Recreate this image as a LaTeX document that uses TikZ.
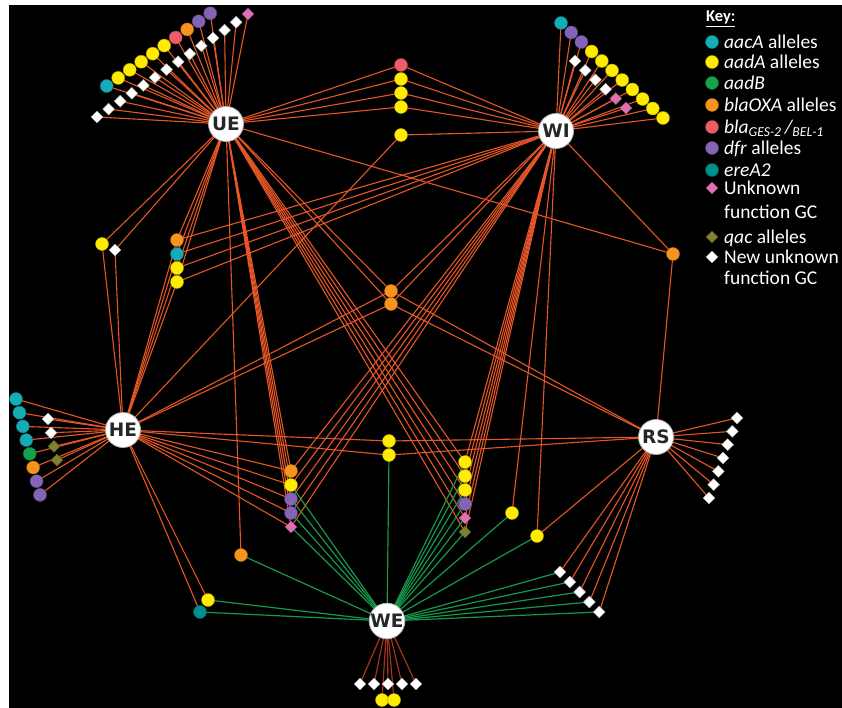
\documentclass[tikz,border=0pt]{standalone}
\usepackage{fontspec}
\setmainfont{Carlito}
\newfontfamily\hubfont{DejaVu Sans}
\usetikzlibrary{shapes.geometric}

\definecolor{edgeorange}{RGB}{230,86,38}
\definecolor{edgegreen}{RGB}{22,152,75}
\definecolor{edgebrown}{RGB}{165,50,25}
\definecolor{caacA}{RGB}{22,172,182}
\definecolor{caadA}{RGB}{255,236,0}
\definecolor{caadB}{RGB}{20,162,75}
\definecolor{cblaOXA}{RGB}{247,148,30}
\definecolor{cblaGES}{RGB}{238,92,105}
\definecolor{cdfr}{RGB}{132,100,182}
\definecolor{cereA}{RGB}{0,143,140}
\definecolor{cunk}{RGB}{224,112,182}
\definecolor{cqac}{RGB}{128,128,48}

\pgfdeclarelayer{back}
\pgfdeclarelayer{links}
\pgfsetlayers{back,links,main}

\tikzset{
  hubnode/.style={circle, fill=white, draw=black!30, line width=0.8pt, minimum size=35pt, inner sep=0pt, text=black!85, font=\hubfont\bfseries\fontsize{18.5}{18.5}\selectfont},
  gcnode/.style={circle, fill=#1, draw=#1!70!black, line width=0.4pt, minimum size=13pt, inner sep=0pt},
  gcdia/.style={diamond, fill=#1, draw=#1!70!black, line width=0.4pt, minimum size=12pt, inner sep=0pt},
  redline/.style={draw=edgeorange, line width=1.1pt},
  greenline/.style={draw=edgegreen, line width=1.2pt},
  brownline/.style={draw=edgebrown, line width=1.2pt},
  keytext/.style={anchor=base west, inner sep=0pt, text=white, font=\fontsize{19.5}{20}\selectfont},
}

\begin{document}
\begin{tikzpicture}[x=1pt, y=-1pt]
			%%%%% START %%%%%
			\useasboundingbox (0,0) rectangle (842,708);
			\begin{pgfonlayer}{back}
			\fill[white] (0,0) rectangle (842,708);
			\fill[black] (9,5) rectangle (842,708);
			\end{pgfonlayer}
			
			% hubs
			\node[hubnode] (UE) at (226,124) {UE};
			\node[hubnode] (WI) at (556,131) {WI};
			\node[hubnode] (HE) at (123,430) {HE};
			\node[hubnode] (RS) at (656,437) {RS};
			\node[hubnode] (WE) at (387,621) {WE};
			
			% UE own cassettes
			\foreach \c [count=\i] in {caacA,caadA,caadA,caadA,caadA,caadA,cblaGES,cblaOXA,cdfr,cdfr}
				\node[gcnode=\c] (uec\i) at ({106.7+11.5*(\i-1)},{86-8.08*(\i-1)}) {};
			\foreach \i in {1,...,13}
				\node[gcdia=white] (ued\i) at ({97+11.6*(\i-1)},{117-7.9*(\i-1)}) {};
			\node[gcdia=cunk] (ued14) at (248,14) {};
			
			% WI own cassettes
			\foreach \c [count=\i] in {caacA,cdfr,cdfr,caadA,caadA,caadA,caadA,caadA,caadA,caadA,caadA}
				\node[gcnode=\c] (wic\i) at ({561+10.2*(\i-1)},{23+9.5*(\i-1)}) {};
			\foreach \c [count=\i] in {white,white,white,white,cunk,cunk}
				\node[gcdia=\c] (wid\i) at ({575+10.2*(\i-1)},{61+9.4*(\i-1)}) {};
			
			% HE own cassettes
			\foreach \c [count=\i] in {caacA,caacA,caacA,caacA,caadB,cblaOXA,cdfr,cdfr}
				\node[gcnode=\c] (hec\i) at ({16+3.43*(\i-1)},{399+13.7*(\i-1)}) {};
			\foreach \c [count=\i] in {white,white,cqac,cqac}
				\node[gcdia=\c] (hed\i) at ({48+3*(\i-1)},{419+13.7*(\i-1)}) {};
			
			% RS own cassettes
			\foreach \i in {1,...,7}
				\node[gcdia=white] (rsd\i) at ({737-4.67*(\i-1)},{418+13.33*(\i-1)}) {};
			
			% WE own cassettes
			\foreach \i in {1,...,5}
				\node[gcdia=white] (wed\i) at ({360+14*(\i-1)},684) {};
			\node[gcnode=caadA] (wey1) at (382,700) {};
			\node[gcnode=caadA] (wey2) at (394,700) {};
			
			% shared cassettes
			\foreach \c [count=\i] in {cblaGES,caadA,caadA,caadA}
				\node[gcnode=\c] (t\i) at (401,{65+14*(\i-1)}) {};
			\node[gcnode=caadA] (t5) at (401,135) {};
			\node[gcnode=caadA] (l1) at (102,244) {};
			\node[gcdia=white] (l2) at (115,250) {};
			\foreach \c [count=\i] in {cblaOXA,caacA,caadA,caadA}
				\node[gcnode=\c] (a\i) at (177,{240+14*(\i-1)}) {};
			\node[gcnode=cblaOXA] (m1) at (391,291) {};
			\node[gcnode=cblaOXA] (m2) at (391,304) {};
			\node[gcnode=cblaOXA] (ro) at (673,254) {};
			\node[gcnode=caadA] (h1) at (389,441) {};
			\node[gcnode=caadA] (h2) at (389,455) {};
			\foreach \c [count=\i] in {cblaOXA,caadA,cdfr,cdfr}
				\node[gcnode=\c] (b\i) at (291,{471+14*(\i-1)}) {};
			\node[gcdia=cunk] (b5) at (291,527) {};
			\foreach \c [count=\i] in {caadA,caadA,caadA,cdfr}
				\node[gcnode=\c] (c\i) at (465,{462+14*(\i-1)}) {};
			\node[gcdia=cunk] (c5) at (465,518) {};
			\node[gcdia=cqac] (c6) at (465,532) {};
			\node[gcnode=caadA] (r1) at (512,513) {};
			\node[gcnode=caadA] (r2) at (537,536) {};
			\node[gcnode=cblaOXA] (o1) at (241,555) {};
			\node[gcnode=caadA] (g1) at (208,600) {};
			\node[gcnode=cereA] (g2) at (200,612) {};
			\foreach \i in {1,...,5}
				\node[gcdia=white] (d\i) at ({560+9.8*(\i-1)},{572+10*(\i-1)}) {};
			
			% links
			\begin{pgfonlayer}{links}
			\foreach \i in {1,...,10} \draw[redline] (UE.center) -- (uec\i.center);
			\foreach \i in {1,...,14} \draw[redline] (UE.center) -- (ued\i.center);
			\foreach \n in {t1,t2,t3,t4,l1,l2,a1,a2,a3,a4,m1,m2,ro,b1,b2,b3,b4,b5,c1,c2,c3,c4,c5,c6,o1}
				\draw[redline] (UE.center) -- (\n.center);
			\foreach \i in {1,...,11} \draw[redline] (WI.center) -- (wic\i.center);
			\foreach \i in {1,...,6} \draw[redline] (WI.center) -- (wid\i.center);
			\foreach \n in {t1,t2,t3,t4,t5,a1,a2,a3,a4,m1,m2,ro,b1,b2,b3,b4,b5,c1,c2,c3,c4,c5,c6,r1,r2}
				\draw[redline] (WI.center) -- (\n.center);
			\foreach \i in {1,...,8} \draw[redline] (HE.center) -- (hec\i.center);
			\foreach \i in {1,...,4} \draw[redline] (HE.center) -- (hed\i.center);
			\foreach \n in {t5,l1,l2,a1,a2,a3,a4,m1,m2,h1,h2,b1,b2,b3,b4,b5,g1,g2}
				\draw[redline] (HE.center) -- (\n.center);
			\foreach \i in {1,...,7} \draw[redline] (RS.center) -- (rsd\i.center);
			\foreach \n in {m1,m2,ro,h1,h2,r2,d1,d2,d3,d4,d5}
				\draw[redline] (RS.center) -- (\n.center);
			\foreach \n in {h2,b2,b3,b4,b5,c1,c2,c3,c4,c5,c6,r1,r2,o1,g1,g2,d1,d2,d3,d4,d5}
				\draw[greenline] (WE.center) -- (\n.center);
			\foreach \n in {wed1,wed2,wed3,wed4,wed5,wey1,wey2}
				\draw[brownline] (WE.center) -- (\n.center);
			\end{pgfonlayer}
			
			% key
			\node[anchor=base west, inner sep=0pt, text=white, font=\bfseries\fontsize{16.5}{17}\selectfont] (keyhead) at (706,22) {\underline{Key:}};
			\node[gcnode=caacA] (k1) at (712,42) {};
			\node[keytext] (k1t) at (724,48.5) {\textit{aacA} alleles};
			\node[gcnode=caadA] (k2) at (712,62) {};
			\node[keytext] (k2t) at (724,68.5) {\textit{aadA} alleles};
			\node[gcnode=caadB] (k3) at (712,83) {};
			\node[keytext] (k3t) at (724,89.5) {\textit{aadB}};
			\node[gcnode=cblaOXA] (k4) at (712,105) {};
			\node[keytext] (k4t) at (724,111.5) {\textit{blaOXA} alleles};
			\node[gcnode=cblaGES] (k5) at (712,127) {};
			\node[keytext] (k5t) at (724,133.5) {\textit{bla}\textsubscript{\itshape GES-2}\,{\itshape /}\textsubscript{\itshape BEL-1}};
			\node[gcnode=cdfr] (k6) at (712,148) {};
			\node[keytext] (k6t) at (724,154.5) {\textit{dfr} alleles};
			\node[gcnode=cereA] (k7) at (712,170) {};
			\node[keytext] (k7t) at (724,176.5) {\textit{ereA2}};
			\node[gcdia=cunk] (k8) at (712,188) {};
			\node[keytext] (k8t) at (724,194.5) {Unknown};
			\node[keytext] (k8u) at (724,218.5) {function GC};
			\node[gcdia=cqac] (k9) at (712,237) {};
			\node[keytext] (k9t) at (724,243.5) {\textit{qac} alleles};
			\node[gcdia=white] (k10) at (712,257) {};
			\node[keytext] (k10t) at (724,263.5) {New unknown};
			\node[keytext] (k10u) at (724,284.5) {function GC};
			%%%%% END %%%%%
\end{tikzpicture}
\end{document}
